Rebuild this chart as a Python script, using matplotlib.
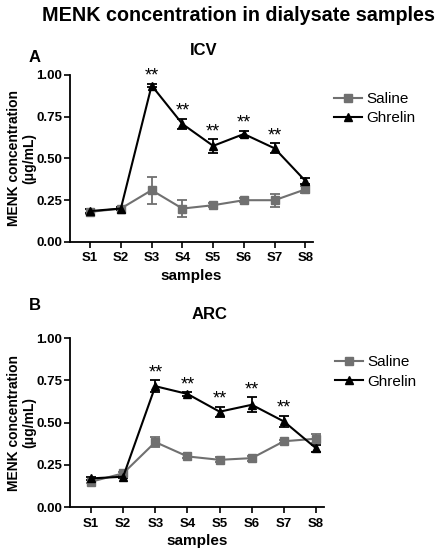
import numpy as np
import matplotlib
matplotlib.use("Agg")
import matplotlib.pyplot as plt
from matplotlib.lines import Line2D

plt.rcParams['font.family'] = ['Liberation Sans', 'DejaVu Sans']
plt.rcParams['font.weight'] = 'bold'

samples = ["S1", "S2", "S3", "S4", "S5", "S6", "S7", "S8"]

# panel A - ICV
icv_saline = [0.18, 0.20, 0.31, 0.20, 0.22, 0.25, 0.25, 0.315]
icv_saline_err = [0.015, 0.01, 0.08, 0.05, 0.012, 0.012, 0.04, 0.02]
icv_ghrelin = [0.185, 0.20, 0.936, 0.706, 0.575, 0.646, 0.56, 0.365]
icv_ghrelin_err = [0.01, 0.01, 0.01, 0.03, 0.04, 0.02, 0.03, 0.02]

# panel B - ARC
arc_saline = [0.15, 0.20, 0.385, 0.30, 0.28, 0.29, 0.39, 0.405]
arc_saline_err = [0.01, 0.01, 0.03, 0.012, 0.015, 0.015, 0.01, 0.025]
arc_ghrelin = [0.17, 0.18, 0.716, 0.67, 0.565, 0.606, 0.507, 0.348]
arc_ghrelin_err = [0.01, 0.01, 0.035, 0.01, 0.03, 0.045, 0.035, 0.02]

stars = [3, 4, 5, 6, 7]

gray = "#707070"

fig = plt.figure(figsize=(4.41, 5.5), dpi=100)
fig.text(0.54, 0.972, "MENK concentration in dialysate samples",
         ha="center", va="center", fontsize=14.2, fontweight="bold")


def panel(ax, saline, saline_err, ghrelin, ghrelin_err, title, letter, lx, ly, lety, labx):
    x = np.arange(1, len(samples) + 1)
    ax.errorbar(x, saline, yerr=saline_err, color=gray, marker="s", ms=6,
                lw=1.5, capsize=3.5, elinewidth=1.3, capthick=1.3)
    ax.errorbar(x, ghrelin, yerr=ghrelin_err, color="black", marker="^", ms=6,
                lw=1.5, capsize=3.5, elinewidth=1.3, capthick=1.3)
    for i in stars:
        ax.text(i, ghrelin[i - 1] + ghrelin_err[i - 1] - 0.005, "**",
                ha="center", va="bottom", fontsize=13, fontweight="normal")
    ax.set_xlim(0.35, 8.25)
    ax.set_ylim(0, 1.0)
    ax.set_xticks(x)
    ax.set_xticklabels(samples)
    ax.set_yticks([0, 0.25, 0.5, 0.75, 1.0])
    ax.set_yticklabels(["0.00", "0.25", "0.50", "0.75", "1.00"])
    ax.tick_params(labelsize=9.5, width=1.2, length=4)
    ax.tick_params(axis="y", pad=1.5)
    for s in ["top", "right"]:
        ax.spines[s].set_visible(False)
    for s in ["left", "bottom"]:
        ax.spines[s].set_linewidth(1.3)
    ax.set_xlabel("samples", fontsize=11, fontweight="bold", labelpad=3)
    ax.set_ylabel("MENK concentration\n(\u03bcg/mL)", fontsize=10,
                  fontweight="bold", linespacing=1.15)
    ax.yaxis.set_label_coords(labx, 0.5)
    ax.set_title(title, fontsize=12, fontweight="bold", pad=14, x=0.55)
    handles = [Line2D([], [], color=gray, marker="s", ms=6, lw=1.5),
               Line2D([], [], color="black", marker="^", ms=6, lw=1.5)]
    ax.legend(handles, ["Saline", "Ghrelin"], loc="upper left",
              bbox_to_anchor=(lx, ly), frameon=False, handlelength=1.8,
              handletextpad=0.3, labelspacing=0.35,
              prop={"weight": "normal", "size": 11})
    fig.text(0.065, lety, letter, fontsize=12, fontweight="bold", va="center")


ax1 = fig.add_axes([0.159, 0.56, 0.551, 0.304])
panel(ax1, icv_saline, icv_saline_err, icv_ghrelin, icv_ghrelin_err,
      "ICV", "A", 1.03, 0.98, 0.895, -0.138)

ax2 = fig.add_axes([0.159, 0.078, 0.576, 0.307])
panel(ax2, arc_saline, arc_saline_err, arc_ghrelin, arc_ghrelin_err,
      "ARC", "B", 0.99, 0.98, 0.445, -0.132)

fig.savefig("out.png", dpi=100)
